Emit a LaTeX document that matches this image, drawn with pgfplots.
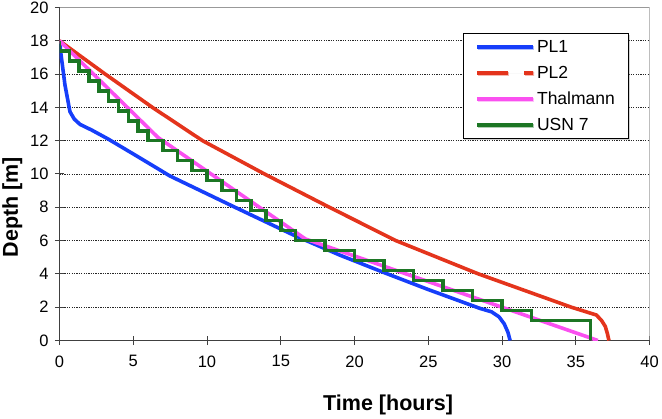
\documentclass[border=0pt]{standalone}
\usepackage{pgfplots}
\pgfplotsset{compat=1.18}
\usepackage{fontspec}
\setmainfont{Liberation Sans}
\usetikzlibrary{shadows}
\definecolor{cPLa}{RGB}{22,62,250}
\definecolor{cPLb}{RGB}{228,52,28}
\definecolor{cThal}{RGB}{250,80,240}
\definecolor{cUSN}{RGB}{28,118,36}
\begin{document}
\begin{tikzpicture}
\useasboundingbox (0,0) rectangle (662bp,419bp);
\begin{axis}[
  at={(59.5bp,78.5bp)}, anchor=south west,
  scale only axis, width=590bp, height=333bp,
  xmin=0, xmax=40, ymin=0, ymax=20,
  xtick={0,5,...,40}, ytick={0,2,...,20},
  axis lines=left,
  axis line style={-, line width=1.3bp, black!75},
  tick align=center, major tick length=9bp,
  tick style={line width=1bp, black!75},
  ymajorgrids,
  major grid style={line width=0.8bp, black!85, dash pattern=on 1.3bp off 1.1bp},
  /pgf/number format/assume math mode=true,
  ticklabel style={font=\fontsize{16.5bp}{19bp}\selectfont},
  xticklabel style={yshift=-7bp},
  yticklabel style={xshift=-3bp},
  xlabel={Time [hours]},
  ylabel={Depth [m]},
  xlabel style={font=\bfseries\fontsize{21.5bp}{25bp}\selectfont, at={(axis description cs:0.557,0)}, anchor=base, yshift=-70bp},
  ylabel style={font=\bfseries\fontsize{21.5bp}{25bp}\selectfont, at={(axis description cs:-0.08,0.40)}, anchor=center},
  legend cell align=left,
  legend image code/.code={\draw[#1] (0bp,0bp) -- (56bp,0bp);},
  legend style={at={(0.684,0.923)}, anchor=north west, draw=black, line width=0.8bp,
    font=\fontsize{17.5bp}{20bp}\selectfont, fill=white,
    drop shadow={shadow xshift=1bp, shadow yshift=-1bp, opacity=0.35},
    inner xsep=12bp, inner ysep=5bp, row sep=8bp,
    /tikz/every even column/.append style={column sep=3bp}},
  every axis plot/.append style={line width=3.6bp, line join=round},
]
\addplot[cPLa] coordinates {
 (0,18) (0.1,17.2) (0.37,15.35) (0.71,13.74) (1.0,13.3) (1.39,12.98) (2.18,12.64)
 (3.3,12.1) (5.2,11.1) (7.49,9.88) (11.9,8.0) (15.85,6.34) (19,5.13) (22,4.08)
 (25,3.06) (28.5,1.93) (29.3,1.72) (29.8,1.42) (30.15,1.0) (30.4,0.5) (30.55,0)
};
\addlegendentry{PL1}
\addplot[cPLb, forget plot] coordinates {
 (0,18) (3.1,16) (6.3,14) (9.7,12) (13.9,10) (18.3,8) (22.8,6) (28.4,4)
 (34.7,2) (36.4,1.53) (36.75,1.2) (37.0,0.85) (37.15,0.4) (37.25,0)
};
\addlegendimage{cPLb, dash pattern=on 31bp off 16bp on 9bp off 0bp}
\addlegendentry{PL2}
\addplot[cThal] coordinates {
 (0,18) (6.67,12.2) (16.67,6.1) (36.5,0)
};
\addlegendentry{Thalmann}
\addplot[cUSN, line join=miter] coordinates {
 (0,18) (0,17.4) (0.667,17.4) (0.667,16.8) (1.333,16.8) (1.333,16.2) (2,16.2) (2,15.6)
 (2.667,15.6) (2.667,15.0) (3.333,15.0) (3.333,14.4) (4,14.4) (4,13.8) (4.667,13.8)
 (4.667,13.2) (5.333,13.2) (5.333,12.6) (6,12.6) (6,12.0) (7,12.0) (7,11.4) (8,11.4)
 (8,10.8) (9,10.8) (9,10.2) (10,10.2) (10,9.6) (11,9.6) (11,9.0) (12,9.0) (12,8.4)
 (13,8.4) (13,7.8) (14,7.8) (14,7.2) (15,7.2) (15,6.6) (16,6.6) (16,6.0) (18,6.0)
 (18,5.4) (20,5.4) (20,4.8) (22,4.8) (22,4.2) (24,4.2) (24,3.6) (26,3.6) (26,3.0)
 (28,3.0) (28,2.4) (30,2.4) (30,1.8) (32,1.8) (32,1.2) (36,1.2) (36,0)
};
\addlegendentry{USN 7}
\draw[black!40, line width=1.2bp] (rel axis cs:0,1) -- (rel axis cs:1,1) -- (rel axis cs:1,0);
\end{axis}
\end{tikzpicture}
\end{document}
